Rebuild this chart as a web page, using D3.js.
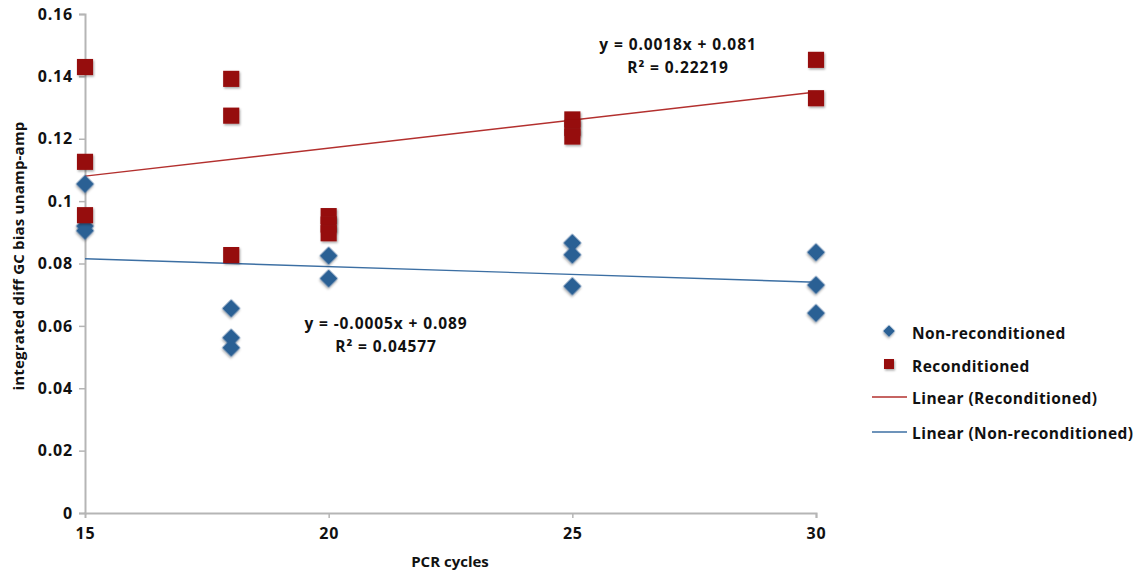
<!DOCTYPE html>
<html>
<head>
<meta charset="utf-8">
<script src="https://cdn.jsdelivr.net/npm/d3@7"></script>
<style>
  html, body { margin: 0; padding: 0; background: #fff; }
  svg { display: block; font-family: "Open Sans", Lato, sans-serif; font-weight: bold; }
</style>
</head>
<body>
<svg id="chart" width="1141" height="577"></svg>
<script>
// ---- data ----
const nonX = [15, 15, 15, 18, 18, 18, 20, 20, 25, 25, 25, 30, 30, 30];
const nonY = [0.1055, 0.092, 0.0905, 0.0656, 0.0562, 0.053, 0.0825, 0.0752, 0.0866, 0.0828, 0.0727, 0.0836, 0.0731, 0.0641];
const recX = [15, 15, 15, 18, 18, 18, 20, 20, 20, 25, 25, 25, 30, 30];
const recY = [0.143, 0.1126, 0.0955, 0.1392, 0.1274, 0.0827, 0.0952, 0.0925, 0.0897, 0.1262, 0.1235, 0.1207, 0.1453, 0.133];
const recFit = [0.0018, 0.081];   // slope, intercept
const nonFit = [-0.0005, 0.089];
const xTicks = [15, 20, 25, 30];
const yTicks = [0, 0.02, 0.04, 0.06, 0.08, 0.1, 0.12, 0.14, 0.16];
const yTickLabels = ["0", "0.02", "0.04", "0.06", "0.08", "0.1", "0.12", "0.14", "0.16"];
const legendLabels = ["Non-reconditioned", "Reconditioned", "Linear (Reconditioned)", "Linear (Non-reconditioned)"];
const recEq = ["y = 0.0018x + 0.081", "R² = 0.22219"];
const nonEq = ["y = -0.0005x + 0.089", "R² = 0.04577"];

// ---- colours ----
const redFill = "#961111", blueFill = "#2b6194";
const redLine = "#b3302e", blueLine = "#3c6fa3";

const svg = d3.select("#chart");
svg.append("rect").attr("width", 1141).attr("height", 577).attr("fill", "#fff");

const defs = svg.append("defs");
const f = defs.append("filter").attr("id", "sh").attr("x", "-50%").attr("y", "-50%").attr("width", "200%").attr("height", "200%");
f.append("feDropShadow").attr("dx", 1).attr("dy", 1.5).attr("stdDeviation", 1).attr("flood-color", "#000").attr("flood-opacity", 0.35);

const x = d3.scaleLinear().domain([15, 30]).range([85, 816]);
const y = d3.scaleLinear().domain([0, 0.16]).range([513, 14]);

const FONT = "'Open Sans', Lato, sans-serif";

// axes
const gy = svg.append("g").attr("transform", `translate(${x(15)},0)`)
  .call(d3.axisLeft(y).tickValues(yTicks).tickFormat((d, i) => yTickLabels[i]).tickSize(6).tickPadding(6));
const gx = svg.append("g").attr("transform", `translate(0,${y(0)})`)
  .call(d3.axisBottom(x).tickValues(xTicks).tickFormat(d3.format("d")).tickSize(5).tickPadding(6));
[gy, gx].forEach(g => {
  g.select(".domain").attr("stroke", "#b5b5b5").attr("stroke-width", 2);
  g.selectAll(".tick line").attr("stroke", "#b5b5b5").attr("stroke-width", 1.5);
  g.selectAll(".tick text").attr("fill", "#111").style("font-size", "16px").style("letter-spacing", "0.8px")
    .style("font-weight", "bold").style("font-family", FONT);
});
gx.selectAll(".tick text").attr("dy", "0.95em");
gx.selectAll(".tick").filter(d => d === 15).select("line").attr("y2", 0);

// trendlines
function fitLine(fit, color) {
  svg.append("line")
    .attr("x1", x(15)).attr("y1", y(fit[0] * 15 + fit[1]))
    .attr("x2", x(30)).attr("y2", y(fit[0] * 30 + fit[1]))
    .attr("stroke", color).attr("stroke-width", 1.4);
}
fitLine(recFit, redLine);
fitLine(nonFit, blueLine);

// markers
const squareSym = d3.symbol().type(d3.symbolSquare).size(260);
const diamondSym = d3.symbol().type(d3.symbolSquare).size(165);

svg.append("g").selectAll("path").data(nonX.map((d, i) => [d, nonY[i]])).join("path")
  .attr("d", diamondSym)
  .attr("transform", d => `translate(${x(d[0])},${y(d[1])}) rotate(45)`)
  .attr("fill", blueFill).attr("filter", "url(#sh)");

svg.append("g").selectAll("path").data(recX.map((d, i) => [d, recY[i]])).join("path")
  .attr("d", squareSym)
  .attr("transform", d => `translate(${x(d[0])},${y(d[1])})`)
  .attr("fill", redFill).attr("filter", "url(#sh)");

// equations
function eq(lines, cx, cy) {
  lines.forEach((t, i) => {
    svg.append("text").attr("x", cx).attr("y", cy + i * 23).attr("text-anchor", "middle")
      .style("font-size", "15.5px").style("letter-spacing", "0.9px").attr("fill", "#111").text(t);
  });
}
eq(recEq, 678, 50);
eq(nonEq, 386, 329);

// axis titles
svg.append("text").attr("x", 450).attr("y", 567).attr("text-anchor", "middle")
  .style("font-size", "15px").attr("fill", "#111").text("PCR cycles");
svg.append("text").attr("transform", "translate(24,256) rotate(-90)").attr("text-anchor", "middle")
  .style("font-size", "15px").style("letter-spacing", "0.2px").attr("fill", "#111").text("integrated diff GC bias unamp-amp");

// legend
const lg = svg.append("g");
const ly = [333, 366, 398, 433];
lg.append("path").attr("d", d3.symbol().type(d3.symbolSquare).size(70))
  .attr("transform", `translate(889,${ly[0] - 2}) rotate(45)`).attr("fill", blueFill).attr("filter", "url(#sh)");
lg.append("path").attr("d", d3.symbol().type(d3.symbolSquare).size(100))
  .attr("transform", `translate(889,${ly[1] - 2})`).attr("fill", redFill).attr("filter", "url(#sh)");
lg.append("line").attr("x1", 872).attr("x2", 907).attr("y1", ly[2] - 1).attr("y2", ly[2] - 1).attr("stroke", redLine).attr("stroke-width", 1.4);
lg.append("line").attr("x1", 872).attr("x2", 907).attr("y1", ly[3] - 1).attr("y2", ly[3] - 1).attr("stroke", blueLine).attr("stroke-width", 1.4);
legendLabels.forEach((t, i) => {
  lg.append("text").attr("x", 912).attr("y", ly[i] + 6).style("font-size", "15.5px").style("letter-spacing", "0.45px")
    .attr("fill", "#111").text(t);
});
</script>
</body>
</html>
